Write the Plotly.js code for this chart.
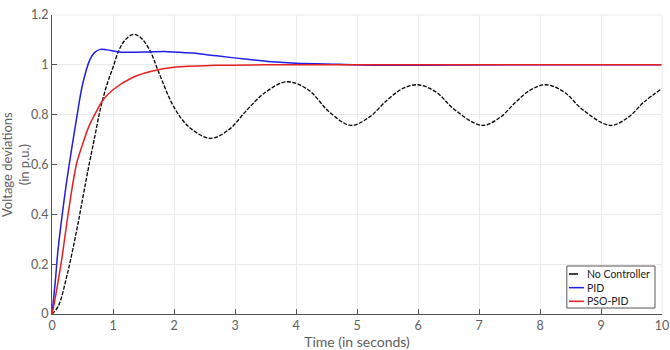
<!DOCTYPE html>
<html>
<head>
<meta charset="utf-8">
<script src="https://cdn.plot.ly/plotly-3.0.1.min.js"></script>
<style>html,body{margin:0;padding:0;background:#fff;}#chart{width:670px;height:350px;}</style>
</head>
<body>
<div id="chart"></div>
<script>
// No Controller
const noCtrlT = [0, 0.1, 0.25, 0.4, 0.5, 0.6, 0.7, 0.79, 0.9, 1.0, 1.1, 1.2, 1.33, 1.45, 1.6, 1.75, 2.0, 2.25, 2.6, 2.9, 3.2, 3.5, 3.85, 4.2, 4.55, 4.9, 5.2, 5.5, 5.75, 6.0, 6.3, 6.6, 7.05, 7.35, 7.6, 7.85, 8.1, 8.4, 8.7, 9.15, 9.45, 9.7, 10.0];
const noCtrlV = [0, 0.03, 0.16, 0.33, 0.46, 0.59, 0.71, 0.82, 0.92, 0.99, 1.06, 1.10, 1.122, 1.11, 1.06, 0.97, 0.83, 0.75, 0.705, 0.74, 0.82, 0.89, 0.932, 0.90, 0.81, 0.757, 0.79, 0.86, 0.905, 0.92, 0.89, 0.82, 0.757, 0.79, 0.85, 0.90, 0.92, 0.89, 0.82, 0.757, 0.79, 0.85, 0.905];
// PID
const pidT = [0, 0.05, 0.1, 0.2, 0.27, 0.4, 0.5, 0.62, 0.7, 0.79, 0.9, 1.1, 1.33, 1.6, 1.9, 2.3, 2.7, 3.2, 3.6, 4.0, 4.7, 5.5, 6.5, 7.5, 10.0];
const pidV = [0, 0.12, 0.26, 0.46, 0.58, 0.78, 0.92, 1.02, 1.05, 1.062, 1.06, 1.052, 1.05, 1.052, 1.053, 1.047, 1.036, 1.022, 1.012, 1.006, 1.002, 0.998, 0.999, 1.0, 1.0];
// PSO-PID
const psoT = [0, 0.05, 0.1, 0.16, 0.27, 0.4, 0.5, 0.6, 0.7, 0.84, 1.0, 1.33, 1.65, 2.0, 2.7, 3.5, 5.0, 7.5, 10.0];
const psoV = [0, 0.06, 0.13, 0.22, 0.41, 0.6, 0.68, 0.75, 0.8, 0.86, 0.9, 0.95, 0.975, 0.99, 0.998, 1.0, 1.0, 1.0, 1.0];

const names = ['No Controller', 'PID', 'PSO-PID'];
const colors = ['#000000', '#1f1fe6', '#e62020'];
const dashes = ['4px,1.5px', 'solid', 'solid'];
const xTicks = [0,1,2,3,4,5,6,7,8,9,10];
const yTicks = [0,0.2,0.4,0.6,0.8,1,1.2];
const yTickText = ['0','0.2','0.4','0.6','0.8','1','1.2'];
const xTitle = 'Time (in seconds)';
const yTitle = 'Voltage deviations<br>(in p.u.)';

const series = [[noCtrlT, noCtrlV], [pidT, pidV], [psoT, psoV]];
const traces = series.map((s, i) => ({
  x: s[0], y: s[1], name: names[i], mode: 'lines', showlegend: false,
  line: {color: colors[i], width: i === 0 ? 1.3 : 1.5, dash: dashes[i], shape: 'spline', smoothing: 1}
}));

const fam = 'Lato, "Open Sans", sans-serif';
const tickFont = {family: fam, size: 12.5, color: '#606060'};
const titleFont = {family: fam, size: 14, color: '#606060'};
const yTitleFont = {family: fam, size: 13, color: '#606060'};

// compact legend (MATLAB style)
const legX0 = 0.844, legX1 = 0.9885, legY0 = 0.020, legY1 = 0.1605;
const legFontSize = 10.5;
const entryY = [0.1338, 0.0881, 0.0424];
const shapes = [
  {type: 'line', xref: 'paper', yref: 'paper', x0: 0, x1: 1, y0: 1, y1: 1, line: {color: '#ebebeb', width: 1}},
  {type: 'line', xref: 'paper', yref: 'paper', x0: 1, x1: 1, y0: 0, y1: 1, line: {color: '#ebebeb', width: 1}},
  {type: 'rect', xref: 'paper', yref: 'paper', x0: legX0, x1: legX1, y0: legY0, y1: legY1, fillcolor: '#ffffff', line: {color: '#555', width: 1}}
];
names.forEach((n, i) => {
  shapes.push({type: 'line', xref: 'paper', yref: 'paper', x0: 0.8475, x1: 0.872, y0: entryY[i], y1: entryY[i],
               line: {color: colors[i], width: 1.5, dash: i === 0 ? 'dash' : 'solid'}});
});
const annotations = [
  {xref: 'paper', yref: 'paper', x: 0.8754, y: (legY0 + legY1) / 2, xanchor: 'left', yanchor: 'middle', align: 'left',
   text: names.join('<br>'), showarrow: false, borderpad: 0, font: {family: fam, size: legFontSize, color: '#222'}},
  {xref: 'paper', yref: 'paper', x: -0.0598, y: 0.5, xanchor: 'center', yanchor: 'middle', textangle: -90,
   text: yTitle, showarrow: false, borderpad: 0, font: yTitleFont}
];

const layout = {
  width: 670, height: 350,
  margin: {l: 52, r: 8, t: 15, b: 36},
  paper_bgcolor: '#ffffff', plot_bgcolor: '#ffffff',
  showlegend: false,
  xaxis: {range: [0, 10], tickvals: xTicks, ticktext: xTicks.map(String), ticks: 'inside', ticklen: 5, tickcolor: '#555',
          showline: true, linecolor: '#555', linewidth: 1, showgrid: true, gridcolor: '#ebebeb', zeroline: false,
          tickfont: tickFont, title: {text: xTitle, font: titleFont, standoff: 0}},
  yaxis: {range: [0, 1.2], tickvals: yTicks, ticktext: yTickText, ticks: 'inside', ticklen: 5, tickcolor: '#555',
          showline: true, linecolor: '#555', linewidth: 1, showgrid: true, gridcolor: '#ebebeb', zeroline: false,
          tickfont: tickFont},
  shapes: shapes,
  annotations: annotations
};
Plotly.newPlot('chart', traces, layout, {staticPlot: true, displayModeBar: false});
</script>
</body>
</html>
